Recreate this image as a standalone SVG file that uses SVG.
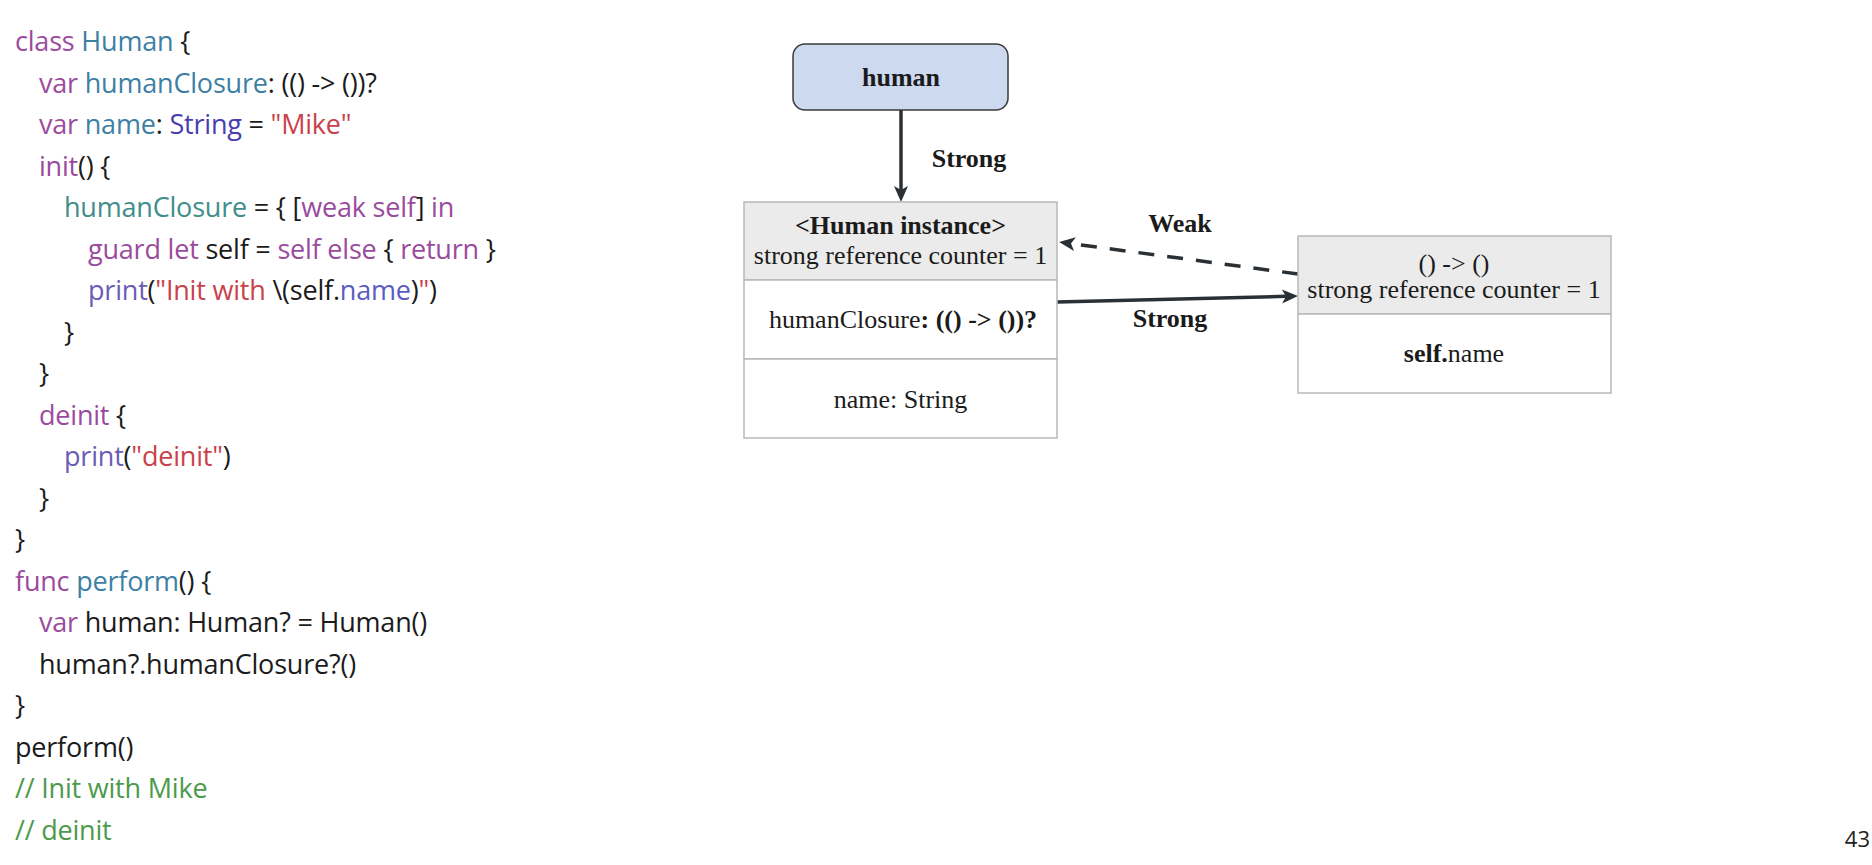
<svg xmlns="http://www.w3.org/2000/svg" width="1872" height="865" viewBox="0 0 1872 865">
<style>
.code{font-family:"Open Sans","Noto Sans",sans-serif;font-size:27px;fill:#1b1b1b;letter-spacing:-0.2px}
.k{fill:#9b4b9e}.t{fill:#3e7fa5}.t2{fill:#418d8b}.s{fill:#4a3db0}.r{fill:#c9424a}.p{fill:#6b5cb6}.n{fill:#5b5cc2}.c{fill:#4c9a4c}
.d{font-family:"Liberation Serif","Times New Roman",serif;font-size:26px;fill:#1b1b1b;text-anchor:middle}
.b{font-weight:bold}
.box{fill:#ffffff;stroke:#b8b8b8;stroke-width:1.5}
.hdr{fill:#ebebeb;stroke:#b8b8b8;stroke-width:1.5}
.edge{stroke:#2b3035;stroke-width:3.5;fill:none}
</style>
<defs>
<marker id="arr" viewBox="0 0 20 16" refX="6" refY="8" markerWidth="20" markerHeight="16" markerUnits="userSpaceOnUse" orient="auto">
<path d="M2,1 L18,8 L2,15 L6,8 Z" fill="#2b3035"/>
</marker>
</defs>
<rect width="1872" height="865" fill="#ffffff"/>
<g id="code" class="code">
<text x="15" y="51"><tspan class="k">class</tspan> <tspan class="t">Human</tspan> {</text>
<text x="39" y="92.5"><tspan class="k">var</tspan> <tspan class="t">humanClosure</tspan>: (() -&gt; ())?</text>
<text x="39" y="134"><tspan class="k">var</tspan> <tspan class="t">name</tspan>: <tspan class="s">String</tspan> = <tspan class="r">"Mike"</tspan></text>
<text x="39" y="175.5"><tspan class="k">init</tspan>() {</text>
<text x="64" y="217"><tspan class="t2">humanClosure</tspan> = { [<tspan class="k">weak self</tspan>] <tspan class="k">in</tspan></text>
<text x="88" y="258.5"><tspan class="k">guard let</tspan> self = <tspan class="k">self else</tspan> { <tspan class="k">return</tspan> }</text>
<text x="88" y="300"><tspan class="p">print</tspan>(<tspan class="r">"Init with </tspan>\(self.<tspan class="n">name</tspan>)<tspan class="r">"</tspan>)</text>
<text x="64" y="341.5">}</text>
<text x="39" y="383">}</text>
<text x="39" y="424.5"><tspan class="k">deinit</tspan> {</text>
<text x="64" y="466"><tspan class="p">print</tspan>(<tspan class="r">"deinit"</tspan>)</text>
<text x="39" y="507.5">}</text>
<text x="15" y="549">}</text>
<text x="15" y="590.5"><tspan class="k">func</tspan> <tspan class="t">perform</tspan>() {</text>
<text x="39" y="632"><tspan class="k">var</tspan> human: Human? = Human()</text>
<text x="39" y="673.5">human?.humanClosure?()</text>
<text x="15" y="715">}</text>
<text x="15" y="756.5">perform()</text>
<text x="15" y="798" class="c">// Init with Mike</text>
<text x="15" y="839.5" class="c">// deinit</text>
</g>
<g id="connectors">
<line class="edge" x1="901" y1="110" x2="901" y2="190" marker-end="url(#arr)"/>
<text class="d b" x="969" y="167">Strong</text>
<line class="edge" x1="1057" y1="302" x2="1286" y2="296.3" marker-end="url(#arr)"/>
<text class="d b" x="1170" y="327">Strong</text>
<line class="edge" x1="1298" y1="274" x2="1071" y2="243.6" stroke-dasharray="16 13" marker-end="url(#arr)"/>
<text class="d b" x="1180" y="232">Weak</text>
</g>
<g id="human">
<rect x="793" y="44" width="215" height="66" rx="12" fill="#cdd9ee" stroke="#3a3a3a" stroke-width="1.5"/>
<text class="d b" x="901" y="86">human</text>
</g>
<g id="human-instance">
<rect class="hdr" x="744" y="202" width="313" height="78"/>
<rect class="box" x="744" y="280" width="313" height="79"/>
<rect class="box" x="744" y="359" width="313" height="79"/>
<text class="d b" x="900.5" y="234">&lt;Human instance&gt;</text>
<text class="d" x="900.5" y="264">strong reference counter = 1</text>
<text class="d" x="903" y="328">humanClosure<tspan class="b">: (() -&gt; ())?</tspan></text>
<text class="d" x="900.5" y="408">name: String</text>
</g>
<g id="closure">
<rect class="hdr" x="1298" y="236" width="313" height="78"/>
<rect class="box" x="1298" y="314" width="313" height="79"/>
<text class="d" x="1454" y="272">() -&gt; ()</text>
<text class="d" x="1454" y="298">strong reference counter = 1</text>
<text class="d" x="1454" y="362"><tspan class="b">self.</tspan>name</text>
</g>
<text x="1870" y="847" font-family="'Open Sans',sans-serif" font-size="22" fill="#222" text-anchor="end">43</text>
</svg>
